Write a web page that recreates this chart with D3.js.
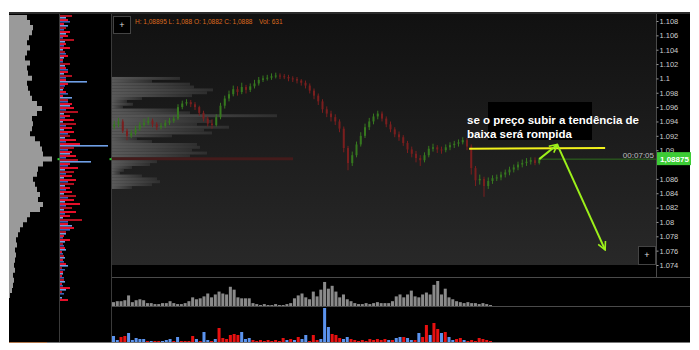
<!DOCTYPE html>
<html>
<head>
<meta charset="utf-8">
<script src="https://cdn.jsdelivr.net/npm/d3@7"></script>
<style>
  body { margin: 0; background: #fff; }
  text { font-family: "Liberation Sans", Arial, sans-serif; }
</style>
</head>
<body>
<script>
// ---- data ----
var closes = [1.0936,1.0940,1.0927,1.0920,1.0924,1.0930,1.0935,1.0938,1.0941,1.0936,
  1.0932,1.0934,1.0938,1.0941,1.0944,1.0960,1.0965,1.0967,1.0964,1.0960,
  1.0952,1.0944,1.0937,1.0935,1.0946,1.0962,1.0972,1.0978,1.0985,1.0981,
  1.0988,1.0984,1.0989,1.0993,1.0998,1.1000,1.1001,1.1003,1.1004,1.1003,
  1.1002,1.1000,1.0999,1.0997,1.0994,1.0990,1.0983,1.0976,1.0968,1.0957,
  1.0951,1.0946,1.0940,1.0930,1.0903,1.0882,1.0893,1.0908,1.0920,1.0932,
  1.0940,1.0947,1.0951,1.0944,1.0936,1.0929,1.0922,1.0918,1.0910,1.0901,
  1.0895,1.0889,1.0886,1.0893,1.0902,1.0904,1.0901,1.0900,1.0904,1.0907,
  1.0909,1.0911,1.0914,1.0905,1.0875,1.0858,1.0860,1.0850,1.0857,1.0861,
  1.0862,1.0866,1.0869,1.0873,1.0876,1.0880,1.0882,1.0884,1.0886,1.0882,
  1.0888];
var highs = [1.0941,1.0945,1.0943,1.0930,1.0928,1.0934,1.0939,1.0944,1.0946,1.0944,
  1.0939,1.0938,1.0942,1.0945,1.0948,1.0964,1.0969,1.0971,1.0970,1.0967,
  1.0962,1.0955,1.0947,1.0943,1.0950,1.0966,1.0976,1.0983,1.0990,1.0989,
  1.0994,1.0991,1.0993,1.0998,1.1002,1.1004,1.1005,1.1007,1.1008,1.1007,
  1.1006,1.1005,1.1003,1.1002,1.0999,1.0997,1.0993,1.0986,1.0979,1.0971,
  1.0961,1.0955,1.0950,1.0943,1.0933,1.0906,1.0898,1.0912,1.0925,1.0937,
  1.0945,1.0951,1.0955,1.0954,1.0947,1.0940,1.0932,1.0926,1.0921,1.0913,
  1.0905,1.0899,1.0893,1.0897,1.0906,1.0909,1.0907,1.0905,1.0908,1.0911,
  1.0913,1.0915,1.0918,1.0917,1.0908,1.0878,1.0866,1.0863,1.0862,1.0865,
  1.0866,1.0870,1.0873,1.0877,1.0880,1.0884,1.0887,1.0889,1.0890,1.0890,
  1.08895];
var lows = [1.0929,1.0932,1.0924,1.0914,1.0917,1.0921,1.0927,1.0932,1.0935,1.0932,
  1.0928,1.0929,1.0931,1.0935,1.0938,1.0942,1.0957,1.0962,1.0960,1.0956,
  1.0948,1.0940,1.0933,1.0930,1.0933,1.0943,1.0958,1.0968,1.0975,1.0976,
  1.0978,1.0979,1.0981,1.0986,1.0990,1.0995,1.0997,1.0998,1.1000,1.0999,
  1.0999,1.0996,1.0995,1.0993,1.0990,1.0986,1.0979,1.0971,1.0963,1.0952,
  1.0946,1.0940,1.0935,1.0925,1.0897,1.0872,1.0878,1.0890,1.0905,1.0917,
  1.0928,1.0936,1.0943,1.0940,1.0932,1.0925,1.0918,1.0913,1.0906,1.0896,
  1.0890,1.0883,1.0878,1.0883,1.0890,1.0898,1.0896,1.0895,1.0897,1.0900,
  1.0903,1.0905,1.0908,1.0900,1.0866,1.0850,1.0852,1.0835,1.0846,1.0853,
  1.0857,1.0858,1.0862,1.0865,1.0869,1.0872,1.0876,1.0878,1.0880,1.0879,
  1.0880];
var firstOpen = 1.0933;

var volumes = [4,5,5,6,11,4,6,7,6,3, 3,2,2,3,3,5,3,2,2,3,
  5,9,7,8,10,13,9,12,15,13, 12,20,17,9,8,8,8,3,2,1,
  2,1,1,2,1,1,2,3,8,11, 13,9,7,15,10,17,25,18,21,15,
  9,12,7,5,3,2,2,3,2,3, 4,3,3,3,5,10,12,9,12,16,
  10,9,12,14,12,22,26,12,18,9, 7,5,4,3,4,3,3,2,3,2, 1];
// positive = buy (blue), negative = sell (red)
var deltas = [6,2,-5,-6,9,2,4,3,3,-1, 1,-1,-1,1,2,3,-1,5,-1,-1,
  -1,-6,3,-1,10,2,-1,3,-14,-4, -3,-7,-8,-7,10,3,4,-2,-1,-2,
  -1,-2,-1,-2,-1,-4,2,-3,2,-5, 3,7,-1,-7,-2,3,34,15,-8,-7,
  -4,3,5,-3,-2,-1,-2,-1,-3,-2, -3,-2,-3,2,-2,4,5,-5,4,2,
  -2,9,-5,-17,7,-19,-13,9,-10,5, 2,-3,-4,2,-1,-2,-1,-4,-3,-2, -1];

// volume profile inside the price chart, one row per 0.0004 from 1.1000 down
var profileTop = 1.1000;
var profileStep = 0.0004;
var profileVol = [68,40,78,82,101,95,80,30,15,21, 11,65,78,165,95,100,85,117,92,100,
  60,25,40,85,88,80,95,78,181,45, 38,20,12,8,30,45,48,40,20];

// long-range profile in the far-left panel
var leftProfile = [11,18,21,24,23,20,18,21,18,16, 21,18,19,23,18,19,21,23,28,33,
  28,23,24,23,21,26,31,33,34,43, 34,29,28,24,26,28,31,29,34,31,
  21,18,14,11,9,7,8,6,7,6, 5,6,4,5,4,3,1];
// bid/ask ladder panel
var ladderSell = [12,8,4,6,10,8,14,6,10,5, 8,3,10,6,8,12,6,8,4,6,
  3,8,12,14,18,10,14,16,12,14, 10,16,20,14,12,16,18,10,18,14,
  12,16,14,10,12,16,14,20,12,16, 10,22,8,14,6,4,10,3,5,2,
  4,3,6,2,3,2,4,2,10,2, 0,8];
var ladderBuy = [6,10,8,4,6,3,5,4,3,6, 4,3,5,8,4,6,27,5,3,8,
  12,8,10,6,4,5,3,6,4,8, 5,6,48,8,10,6,31,8,5,6,
  4,8,5,6,4,8,5,6,4,5, 3,8,12,10,6,3,5,4,6,3,
  5,4,8,5,3,4,5,3,6,4, 2,0];

// 1.088 sits under the last-price badge, so the platform does not print it
var priceTicks = [1.074,1.076,1.078,1.08,1.082,1.084,1.086,1.09,1.092,
  1.094,1.096,1.098,1.1,1.102,1.104,1.106,1.108];
var lastPrice = 1.08875;
var header = "H: 1,08895 L: 1,088 O: 1,0882 C: 1,0888";
var volText = "Vol: 631";
var timerText = "00:07:05";
var priceText = "1,08875";
var noteLines = ["se o preço subir a tendência de", "baixa será rompida"];

// ---- layout ----
var W = 699, H = 350;
var plotLeft = 112, plotRight = 656, plotTop = 14, plotBottom = 265;
var t0 = new Date(2017, 9, 2, 6, 0);
var hour = 3600 * 1000;
var upColor = "#36781f", downColor = "#7a1e1e";

var svg = d3.select("body").append("svg")
  .attr("width", W)
  .attr("height", H);

var defs = svg.append("defs");
var bg = defs.append("linearGradient").attr("id", "bg")
  .attr("x1", 0).attr("y1", 0).attr("x2", 0).attr("y2", 1);
bg.append("stop").attr("offset", "0%").attr("stop-color", "#111");
bg.append("stop").attr("offset", "100%").attr("stop-color", "#282828");
var pg = defs.append("linearGradient").attr("id", "pg")
  .attr("x1", 0).attr("y1", 0).attr("x2", 1).attr("y2", 0);
pg.append("stop").attr("offset", "0%").attr("stop-color", "#6a6a6a");
pg.append("stop").attr("offset", "100%").attr("stop-color", "#333");
defs.append("clipPath").attr("id", "plotClip")
  .append("rect").attr("x", plotLeft).attr("y", plotTop)
  .attr("width", plotRight - plotLeft).attr("height", plotBottom - plotTop);
defs.append("clipPath").attr("id", "axisClip")
  .append("rect").attr("x", plotLeft).attr("y", plotBottom)
  .attr("width", plotRight - plotLeft).attr("height", 12);
defs.append("marker").attr("id", "arrow")
  .attr("viewBox", "0 0 10 10").attr("refX", 9).attr("refY", 5)
  .attr("markerWidth", 5).attr("markerHeight", 5)
  .attr("orient", "auto").attr("markerUnits", "strokeWidth")
  .append("path").attr("d", "M1,1 L9,5 L1,9")
  .attr("fill", "none").attr("stroke", "#9cf01a").attr("stroke-width", 1.6);

// frame
svg.append("rect").attr("x", 9).attr("y", 12).attr("width", 681).attr("height", 331).attr("fill", "#000");
svg.append("rect").attr("x", 9).attr("y", 12).attr("width", 681).attr("height", 2).attr("fill", "#2c2c2c");
svg.append("rect").attr("x", plotLeft).attr("y", plotTop)
  .attr("width", plotRight - plotLeft).attr("height", plotBottom - plotTop)
  .attr("fill", "url(#bg)");

// scales
var x = d3.scaleTime()
  .domain([t0, new Date(+t0 + 128 * hour)])
  .range([110, 654]);
var y = d3.scaleLinear()
  .domain([1.074, 1.108])
  .range([265, 21]);

var bars = closes.map(function(c, i) {
  return {
    date: new Date(+t0 + (i + 1) * hour),
    open: i === 0 ? firstOpen : closes[i - 1],
    high: highs[i], low: lows[i], close: c,
    vol: volumes[i], delta: deltas[i], i: i
  };
});

var plot = svg.append("g").attr("clip-path", "url(#plotClip)");

// volume profile
plot.selectAll(".prof")
  .data(profileVol)
  .enter()
  .append("rect")
  .attr("x", plotLeft)
  .attr("y", function(d, k) { return y(profileTop - k * profileStep) - 1.45; })
  .attr("width", function(d) { return d; })
  .attr("height", 2.9)
  .attr("fill", function(d, k) {
    return Math.abs(profileTop - k * profileStep - lastPrice) < 0.0002 ? "#4e1a1a" : "url(#pg)";
  })
  .attr("opacity", 0.8);

// candles
var candle = plot.selectAll(".candle")
  .data(bars)
  .enter()
  .append("g");
candle.append("line")
  .attr("x1", function(d) { return x(d.date); })
  .attr("x2", function(d) { return x(d.date); })
  .attr("y1", function(d) { return y(d.high); })
  .attr("y2", function(d) { return y(d.low); })
  .attr("stroke", function(d) { return d.close >= d.open ? upColor : downColor; })
  .attr("stroke-width", 1);
candle.append("rect")
  .attr("x", function(d) { return x(d.date) - 1; })
  .attr("y", function(d) { return y(Math.max(d.open, d.close)); })
  .attr("width", 2)
  .attr("height", function(d) { return Math.max(1, Math.abs(y(d.open) - y(d.close))); })
  .attr("fill", function(d) { return d.close >= d.open ? upColor : downColor; });

// current price line
var last = bars[bars.length - 1];
svg.append("line")
  .attr("x1", x(last.date)).attr("x2", plotRight)
  .attr("y1", y(lastPrice)).attr("y2", y(lastPrice))
  .attr("stroke", "#2f6e1e").attr("stroke-width", 1);

// price axis
svg.append("line").attr("x1", plotRight + 0.5).attr("x2", plotRight + 0.5)
  .attr("y1", plotTop).attr("y2", 277).attr("stroke", "#4a4a4a");
var yAxis = svg.append("g")
  .attr("transform", "translate(" + (plotRight + 0.5) + ",0)")
  .call(d3.axisRight(y).tickValues(priceTicks).tickSize(2).tickSizeOuter(0).tickPadding(1)
    .tickFormat(function(d) { return String(+d.toFixed(3)); }));
yAxis.select(".domain").remove();
yAxis.selectAll("line").attr("stroke", "#999");
yAxis.selectAll("text").attr("fill", "#cfcfcf").style("font-size", "7.5px");

// time axis
svg.append("rect").attr("x", plotLeft).attr("y", plotBottom).attr("width", plotRight - plotLeft)
  .attr("height", 12).attr("fill", "#000");
var timeTicks = d3.range(0, 8).map(function(k) { return new Date(+t0 + k * 12 * hour); });
var xAxis = svg.append("g")
  .attr("clip-path", "url(#axisClip)")
  .attr("transform", "translate(0," + plotBottom + ")")
  .call(d3.axisBottom(x).tickValues(timeTicks).tickSize(0).tickPadding(3)
    .tickFormat(d3.timeFormat("%H:%M")));
xAxis.select(".domain").remove();
xAxis.selectAll("text").attr("fill", "#dcdcdc").style("font-size", "7.5px");

// panel separators
svg.append("line").attr("x1", plotLeft).attr("x2", 690).attr("y1", 277.5).attr("y2", 277.5).attr("stroke", "#4a4a4a");
svg.append("line").attr("x1", plotLeft).attr("x2", 690).attr("y1", 306.5).attr("y2", 306.5).attr("stroke", "#4a4a4a");
svg.append("line").attr("x1", 111.5).attr("x2", 111.5).attr("y1", plotTop).attr("y2", 343).attr("stroke", "#3a3a3a");
svg.append("line").attr("x1", 59.5).attr("x2", 59.5).attr("y1", plotTop).attr("y2", 343).attr("stroke", "#3a3a3a");
svg.append("line").attr("x1", 9).attr("x2", 690).attr("y1", 342.5).attr("y2", 342.5).attr("stroke", "#777");
svg.append("line").attr("x1", 9).attr("x2", 47).attr("y1", 342.5).attr("y2", 342.5).attr("stroke", "#b0764a");

// volume panels
var xv = d3.scaleBand()
  .domain(d3.range(bars.length))
  .range([112, 492])
  .paddingInner(0.2);
var yv = d3.scaleLinear().domain([0, 26]).range([306, 281]);
var yd = d3.scaleLinear().domain([0, 34]).range([342, 308]);

svg.selectAll(".vol")
  .data(bars)
  .enter()
  .append("rect")
  .attr("x", function(d) { return xv(d.i); })
  .attr("y", function(d) { return yv(d.vol); })
  .attr("width", xv.bandwidth())
  .attr("height", function(d) { return yv(0) - yv(d.vol); })
  .attr("fill", "#8a8a8a");

svg.selectAll(".delta")
  .data(bars)
  .enter()
  .append("rect")
  .attr("x", function(d) { return xv(d.i); })
  .attr("y", function(d) { return yd(Math.abs(d.delta)); })
  .attr("width", xv.bandwidth())
  .attr("height", function(d) { return yd(0) - yd(Math.abs(d.delta)); })
  .attr("fill", function(d) { return d.delta > 0 ? "#5b93ee" : "#e81010"; });

// far-left long-range profile
var yl = d3.scaleLinear().domain([0, leftProfile.length - 1]).range([15, 298]);
svg.append("path")
  .datum(leftProfile)
  .attr("d", d3.area()
    .x0(9)
    .x1(function(d) { return 9 + d; })
    .y(function(d, k) { return yl(k); })
    .curve(d3.curveStepAfter))
  .attr("fill", "#9a9a9a");

// ladder panel
var yr = d3.scaleLinear().domain([0, ladderSell.length - 1]).range([15, 299]);
svg.selectAll(".sell")
  .data(ladderSell)
  .enter()
  .append("rect")
  .attr("x", 60)
  .attr("y", function(d, k) { return yr(k); })
  .attr("width", function(d) { return d; })
  .attr("height", 2)
  .attr("fill", function(d, k) { return k % 3 === 0 ? "#b01020" : "#e4102a"; });
svg.selectAll(".buy")
  .data(ladderBuy)
  .enter()
  .append("rect")
  .attr("x", 60)
  .attr("y", function(d, k) { return yr(k) + 2; })
  .attr("width", function(d) { return d; })
  .attr("height", 1.6)
  .attr("fill", function(d, k) { return k % 2 === 0 ? "#6f9fe6" : "#3d62b8"; });
svg.append("rect").attr("x", 57.5).attr("y", y(lastPrice) - 1).attr("width", 2).attr("height", 2).attr("fill", "#2ecc2e");
svg.append("rect").attr("x", 109.5).attr("y", y(lastPrice) - 1).attr("width", 2).attr("height", 2).attr("fill", "#2ecc2e");

// header
svg.append("rect").attr("x", 113.5).attr("y", 16.5).attr("width", 17).attr("height", 17)
  .attr("fill", "#000").attr("stroke", "#444");
svg.append("text").attr("x", 122).attr("y", 28).attr("text-anchor", "middle")
  .attr("fill", "#ddd").style("font-size", "9px").text("+");
svg.append("text").attr("x", 135).attr("y", 24).attr("fill", "#dd6a1e")
  .style("font-size", "6.5px").text(header);
svg.append("text").attr("x", 259).attr("y", 24).attr("fill", "#dd6a1e")
  .style("font-size", "6.5px").text(volText);

svg.append("rect").attr("x", 638.5).attr("y", 246.5).attr("width", 17).attr("height", 18)
  .attr("fill", "#000").attr("stroke", "#444");
svg.append("text").attr("x", 647).attr("y", 258).attr("text-anchor", "middle")
  .attr("fill", "#ddd").style("font-size", "9px").text("+");

// last price label and timer
svg.append("rect").attr("x", plotRight + 1).attr("y", y(lastPrice) - 7)
  .attr("width", 34).attr("height", 13).attr("fill", "#3ccc35");
svg.append("text").attr("x", plotRight + 4).attr("y", y(lastPrice) + 3)
  .attr("fill", "#fff").style("font-size", "8px").style("font-weight", "bold").text(priceText);
svg.append("text").attr("x", plotRight - 2).attr("y", y(lastPrice) - 1.5).attr("text-anchor", "end")
  .attr("fill", "#bdbdbd").style("font-size", "8px").text(timerText);

// annotation drawn on the chart
var hx = function(h) { return x(new Date(+t0 + h * hour)); };
svg.append("rect").attr("x", 488).attr("y", 102).attr("width", 104).attr("height", 38).attr("fill", "#000");
svg.append("line")
  .attr("x1", hx(84.5)).attr("y1", y(1.0902))
  .attr("x2", hx(116.5)).attr("y2", y(1.0903))
  .attr("stroke", "#f2f21c").attr("stroke-width", 2);
svg.append("line")
  .attr("x1", hx(101)).attr("y1", y(lastPrice))
  .attr("x2", hx(105.3)).attr("y2", y(1.0908))
  .attr("stroke", "#9cf01a").attr("stroke-width", 2).attr("marker-end", "url(#arrow)");
svg.append("line")
  .attr("x1", hx(105.3)).attr("y1", y(1.0907))
  .attr("x2", hx(116.5)).attr("y2", y(1.0761))
  .attr("stroke", "#9cf01a").attr("stroke-width", 2).attr("marker-end", "url(#arrow)");
svg.selectAll(".note")
  .data(noteLines)
  .enter()
  .append("text")
  .attr("x", 467)
  .attr("y", function(d, i) { return 124 + i * 14; })
  .attr("fill", "#fff")
  .style("font-size", "11.5px")
  .style("font-weight", "bold")
  .text(function(d) { return d; });
</script>
</body>
</html>
